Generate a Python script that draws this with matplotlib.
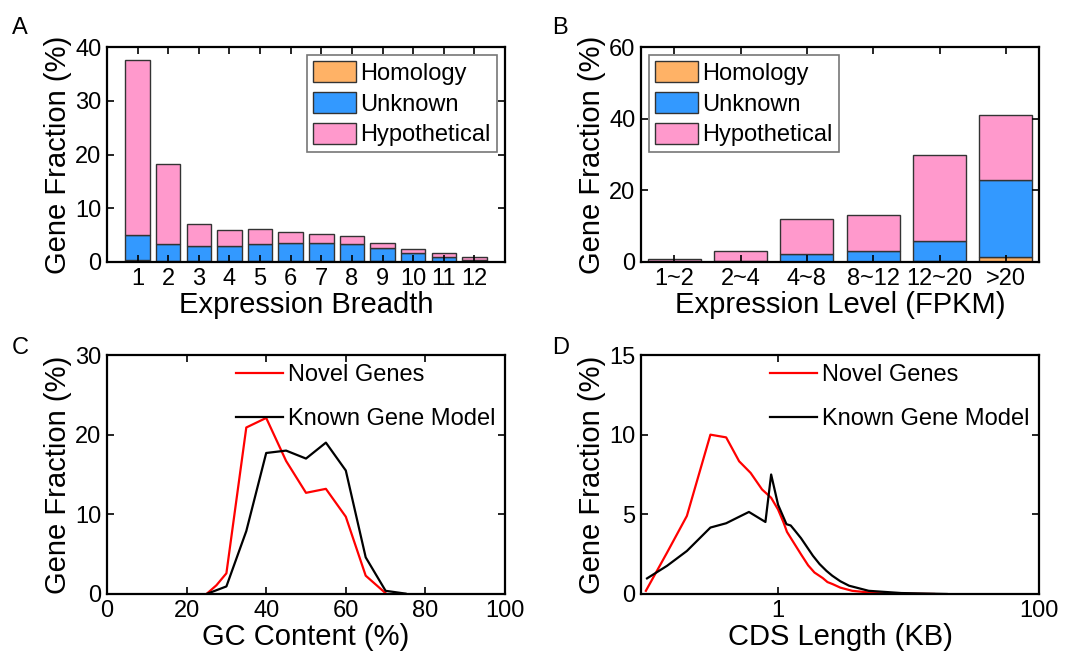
import matplotlib
matplotlib.use('Agg')
import matplotlib.pyplot as plt
from matplotlib.ticker import NullLocator

plt.rcParams['font.family'] = ['Liberation Sans', 'DejaVu Sans']

# panel A: expression breadth (stacked segments, %)
breadth = list(range(1, 13))
a_homology = [0.3, 0.1, 0.1, 0.1, 0.1, 0.1, 0.1, 0.1, 0.1, 0.05, 0.05, 0.05]
a_unknown = [4.8, 3.2, 2.8, 2.8, 3.3, 3.5, 3.5, 3.2, 2.5, 1.65, 0.95, 0.3]
a_hypothetical = [32.4, 15.0, 4.2, 3.0, 2.7, 2.0, 1.7, 1.6, 1.0, 0.8, 0.6, 0.65]

# panel B: expression level (stacked segments, %)
level_labels = ['1~2', '2~4', '4~8', '8~12', '12~20', '>20']
b_homology = [0.05, 0.05, 0.1, 0.1, 0.3, 1.4]
b_unknown = [0.15, 0.25, 2.1, 3.0, 5.6, 21.4]
b_hypothetical = [0.6, 2.9, 9.9, 10.1, 23.9, 18.3]

# panel C: GC content distribution
gc_novel_x = [25, 27.5, 30, 35, 40, 45, 50, 55, 60, 65, 70]
gc_novel_y = [0.0, 1.1, 2.6, 20.9, 22.1, 16.7, 12.7, 13.2, 9.7, 2.3, 0.1]
gc_known_x = [25, 30, 35, 40, 45, 50, 55, 60, 65, 70, 75]
gc_known_y = [0.0, 0.95, 7.9, 17.7, 18.0, 17.0, 19.0, 15.5, 4.6, 0.4, 0.05]

# panel D: CDS length distribution
cds_novel_x = [0.097, 0.141, 0.2, 0.303, 0.4, 0.503, 0.616, 0.754, 0.885, 1.0,
               1.1, 1.17, 1.3, 1.51, 1.7, 1.9, 2.2, 2.39, 2.62, 3.0, 3.7, 5.5, 8.0, 15.7]
cds_novel_y = [0.2, 2.6, 4.9, 10.0, 9.83, 8.33, 7.6, 6.56, 6.04, 5.3,
               4.5, 3.9, 3.3, 2.45, 1.8, 1.35, 1.0, 0.75, 0.62, 0.4, 0.2, 0.06, 0.02, 0.0]
cds_known_x = [0.099, 0.141, 0.2, 0.303, 0.4, 0.49, 0.598, 0.8, 0.885, 1.0,
               1.16, 1.25, 1.34, 1.5, 1.65, 1.85, 2.08, 2.35, 2.6, 3.0, 3.5, 4.95, 8.8, 19.6]
cds_known_y = [0.98, 1.77, 2.7, 4.17, 4.44, 4.8, 5.15, 4.52, 7.5, 5.6,
               4.38, 4.3, 4.0, 3.5, 3.0, 2.4, 1.88, 1.45, 1.15, 0.8, 0.52, 0.2, 0.06, 0.0]

c_homology = '#FFB266'
c_unknown = '#3399FF'
c_hypo = '#FF99CC'
edge = '#333333'

W, H = 1083, 655
fig = plt.figure(figsize=(W / 100, H / 100), dpi=100)


def px_axes(left, right, top, bottom):
    return fig.add_axes([left / W, 1 - bottom / H, (right - left) / W, (bottom - top) / H])


def style(ax):
    for s in ax.spines.values():
        s.set_linewidth(1.6)
    ax.tick_params(direction='in', top=True, right=True, length=5, width=1.2,
                   labelsize=17, pad=4)


def stacked(ax, x, homo, unk, hypo):
    bottom2 = [h + u for h, u in zip(homo, unk)]
    ax.bar(x, homo, width=0.8, color=c_homology, edgecolor=edge, linewidth=1, label='Homology')
    ax.bar(x, unk, width=0.8, bottom=homo, color=c_unknown, edgecolor=edge, linewidth=1, label='Unknown')
    ax.bar(x, hypo, width=0.8, bottom=bottom2, color=c_hypo, edgecolor=edge, linewidth=1,
           label='Hypothetical')


bar_leg = dict(fontsize=17, frameon=True, fancybox=False, edgecolor='#777777', framealpha=1,
               handlelength=1.8, handleheight=1.0, handletextpad=0.2, labelspacing=0.3,
               borderpad=0.25, borderaxespad=0.35)
line_leg = dict(fontsize=17, frameon=False, handlelength=2.0, handletextpad=0.2,
                labelspacing=0.92, borderaxespad=0.0, borderpad=0.4)

# A
axA = px_axes(107, 505, 47, 262)
stacked(axA, breadth, a_homology, a_unknown, a_hypothetical)
axA.set_xlim(0, 13)
axA.set_ylim(0, 40)
axA.set_xticks(breadth)
axA.set_yticks([0, 10, 20, 30, 40])
style(axA)
axA.set_xlabel('Expression Breadth', fontsize=21, labelpad=1)
axA.set_ylabel('Gene Fraction (%)', fontsize=21, labelpad=2)
lg = axA.legend(loc='upper right', **bar_leg)
lg.get_frame().set_linewidth(1.2)

# B
axB = px_axes(641, 1039, 47, 262)
xb = list(range(1, len(level_labels) + 1))
stacked(axB, xb, b_homology, b_unknown, b_hypothetical)
axB.set_xlim(0.5, 6.5)
axB.set_ylim(0, 60)
axB.set_xticks(xb)
axB.set_xticklabels(level_labels)
axB.set_yticks([0, 20, 40, 60])
style(axB)
axB.set_xlabel('Expression Level (FPKM)', fontsize=21, labelpad=1)
axB.set_ylabel('Gene Fraction (%)', fontsize=21, labelpad=2)
lg = axB.legend(loc='upper left', **bar_leg)
lg.get_frame().set_linewidth(1.2)

# C
axC = px_axes(107, 505, 355, 594)
axC.plot(gc_novel_x, gc_novel_y, color='#FF0000', lw=1.6, label='Novel Genes')
axC.plot(gc_known_x, gc_known_y, color='black', lw=1.6, label='Known Gene Model')
axC.set_xlim(0, 100)
axC.set_ylim(0, 30)
axC.set_xticks([0, 20, 40, 60, 80, 100])
axC.set_yticks([0, 10, 20, 30])
style(axC)
axC.set_xlabel('GC Content (%)', fontsize=21, labelpad=1)
axC.set_ylabel('Gene Fraction (%)', fontsize=21, labelpad=2)
axC.legend(loc='upper right', **line_leg)

# D
axD = px_axes(641, 1039, 355, 594)
axD.plot(cds_novel_x, cds_novel_y, color='#FF0000', lw=1.6, label='Novel Genes')
axD.plot(cds_known_x, cds_known_y, color='black', lw=1.6, label='Known Gene Model')
axD.set_xscale('log')
axD.set_xlim(0.089, 100)
axD.set_ylim(0, 15)
axD.set_xticks([1, 100])
axD.set_xticklabels(['1', '100'])
axD.xaxis.set_minor_locator(NullLocator())
axD.set_yticks([0, 5, 10, 15])
style(axD)
axD.set_xlabel('CDS Length (KB)', fontsize=21, labelpad=1)
axD.set_ylabel('Gene Fraction (%)', fontsize=21, labelpad=2)
axD.legend(loc='upper right', **line_leg)

for lab, x, y in [('A', 12, 17), ('B', 552, 17), ('C', 12, 337), ('D', 552, 337)]:
    fig.text(x / W, 1 - y / H, lab, fontsize=17, ha='left', va='top')

fig.savefig('out.png', dpi=100)
